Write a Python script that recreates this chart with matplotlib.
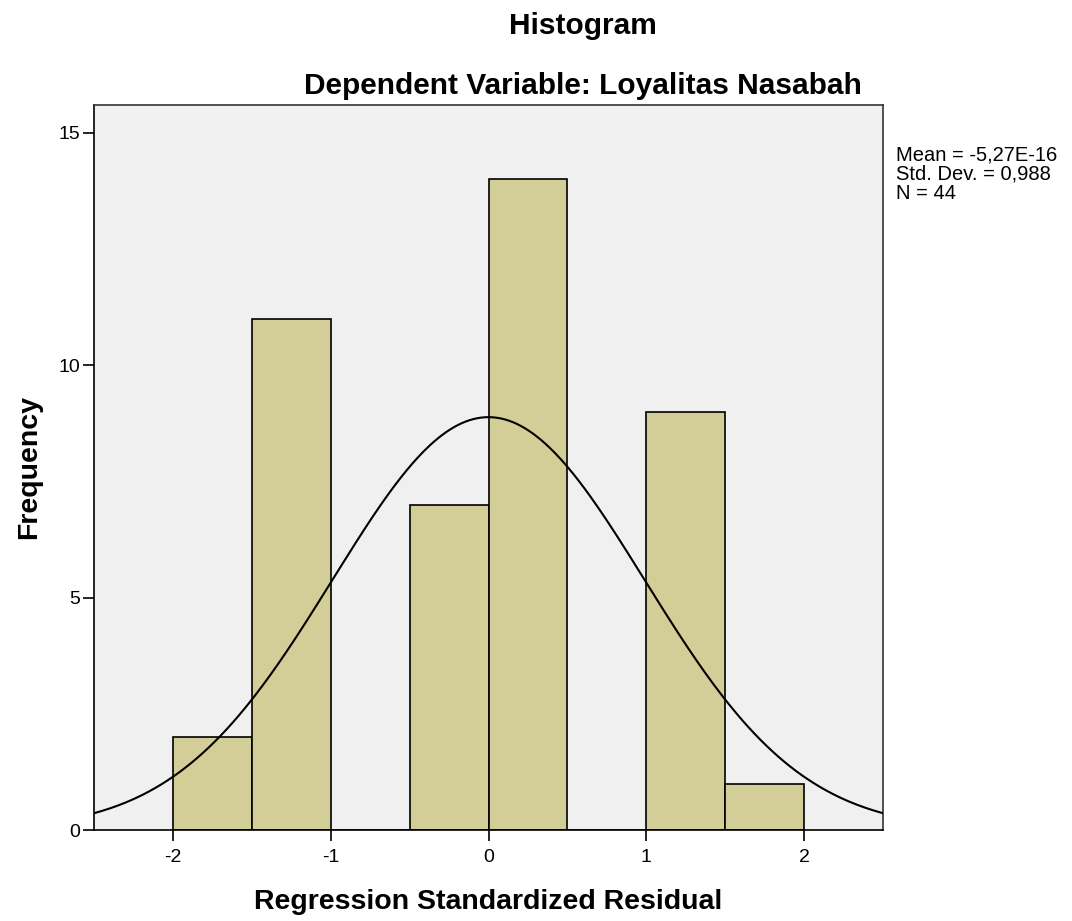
import numpy as np
import matplotlib.pyplot as plt

# bins of width 0.5 from -2 to 2
bin_edges = [-2.0, -1.5, -1.0, -0.5, 0.0, 0.5, 1.0, 1.5, 2.0]
counts = [2, 11, 0, 7, 14, 0, 9, 1]
mean = -5.27e-16
std_dev = 0.988
n_obs = 44

plt.rcParams['font.family'] = ['Liberation Sans', 'DejaVu Sans']

fig = plt.figure(figsize=(10.72, 9.21), dpi=100)
ax = fig.add_axes([0.0877, 0.0988, 0.7360, 0.7872])
ax.set_facecolor('#f0f0f0')

lefts = np.array(bin_edges[:-1])
widths = np.diff(bin_edges)
ax.bar(lefts, counts, width=widths, align='edge', color='#d3ce97',
       edgecolor='black', linewidth=1.2, zorder=2)

# fitted normal curve
xs = np.linspace(-2.5, 2.5, 400)
bw = 0.5
ys = n_obs * bw / (std_dev * np.sqrt(2 * np.pi)) * np.exp(-0.5 * ((xs - mean) / std_dev) ** 2)
ax.plot(xs, ys, color='black', linewidth=1.5, zorder=3)

ax.set_xlim(-2.5, 2.5)
ax.set_ylim(0, 15.6)
ax.set_xticks([-2, -1, 0, 1, 2])
ax.set_xticklabels(['-2', '-1', '0', '1', '2'])
ax.set_yticks([0, 5, 10, 15])
ax.tick_params(direction='out', length=8, width=1.2, labelsize=14, color='black', pad=2)
ax.tick_params(axis='x', pad=6)
for s in ax.spines.values():
    s.set_linewidth(1.2)
    s.set_color('#333333')
ax.spines['left'].set_color('black')
ax.spines['bottom'].set_color('black')

ax.set_xlabel('Regression Standardized Residual', fontsize=20.5, fontweight='bold', labelpad=16)
ax.set_ylabel('Frequency', fontsize=20.5, fontweight='bold', labelpad=12)

fig.text(0.544, 0.972, 'Histogram', ha='center', va='center', fontsize=21.5, fontweight='bold')
fig.text(0.544, 0.907, 'Dependent Variable: Loyalitas Nasabah', ha='center', va='center',
         fontsize=21.5, fontweight='bold')

fig.text(0.836, 0.842, 'Mean = -5,27E-16\nStd. Dev. = 0,988\nN = 44', ha='left', va='top',
         fontsize=14.5, linespacing=1.0)

fig.savefig('out.png', dpi=100)
